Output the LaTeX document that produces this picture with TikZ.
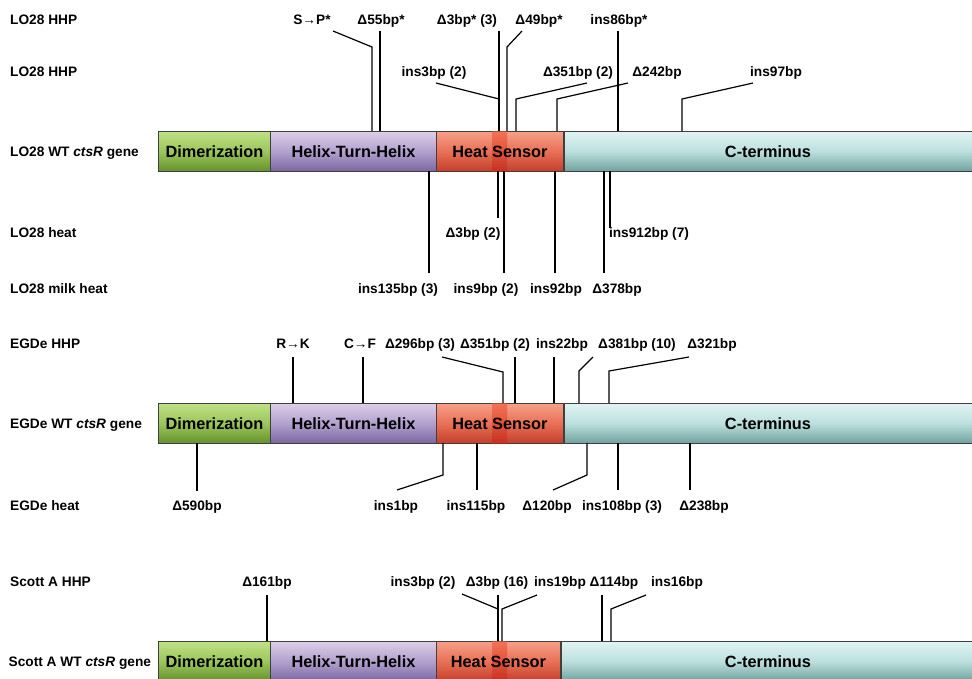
\documentclass[tikz,border=0pt]{standalone}
\usepackage{fontspec}
\setmainfont{Liberation Sans}
\usetikzlibrary{calc}
\definecolor{gtop}{RGB}{192,225,135}
\definecolor{gmid}{RGB}{155,198,90}
\definecolor{gbot}{RGB}{100,145,45}
\definecolor{ptop}{RGB}{220,207,232}
\definecolor{pmid}{RGB}{178,160,205}
\definecolor{pbot}{RGB}{122,102,162}
\definecolor{rtop}{RGB}{246,160,135}
\definecolor{rmid}{RGB}{232,112,86}
\definecolor{rbot}{RGB}{195,62,42}
\definecolor{ctop}{RGB}{224,243,243}
\definecolor{cmid}{RGB}{188,224,222}
\definecolor{cbot}{RGB}{112,160,156}
\definecolor{stop}{RGB}{240,85,55}
\definecolor{sbot}{RGB}{200,40,25}
\pgfdeclareverticalshading{gshade}{100bp}{color(0bp)=(gbot); color(25bp)=(gbot); color(50bp)=(gmid); color(75bp)=(gtop); color(100bp)=(gtop)}
\pgfdeclareverticalshading{pshade}{100bp}{color(0bp)=(pbot); color(25bp)=(pbot); color(50bp)=(pmid); color(75bp)=(ptop); color(100bp)=(ptop)}
\pgfdeclareverticalshading{rshade}{100bp}{color(0bp)=(rbot); color(25bp)=(rbot); color(50bp)=(rmid); color(75bp)=(rtop); color(100bp)=(rtop)}
\pgfdeclareverticalshading{cshade}{100bp}{color(0bp)=(cbot); color(25bp)=(cbot); color(50bp)=(cmid); color(75bp)=(ctop); color(100bp)=(ctop)}
\newcommand\labfont{\fontsize{13.7}{16}\selectfont\bfseries}
\newcommand\segfont{\fontsize{16.3}{19}\selectfont\bfseries}
\tikzset{
  seg/.style={draw=black!75, line width=0.9pt, minimum height=40pt, inner sep=0pt, anchor=north west},
  segtext/.style={font=\segfont, inner sep=0pt, anchor=base},
  lab/.style={font=\labfont, inner sep=0pt, anchor=base},
  rowlab/.style={font=\labfont, inner sep=0pt, anchor=base west},
  mline/.style={line width=1.2pt, black}
}
% #1 prefix, #2 top y, #3 heat sensor width
\newcommand\genebar[3]{%
  \node[seg, shading=gshade, minimum width=112pt] (#1d) at (158,#2) {};
  \node[seg, shading=pshade, minimum width=166pt] (#1h) at (270,#2) {};
  \node[seg, shading=rshade, minimum width=#3pt] (#1s) at (436,#2) {};
  \node[seg, shading=cshade, minimum width=420pt, anchor=north west] (#1c) at ($(#1s.north east)$) {};
  \shade[top color=stop, bottom color=sbot, opacity=0.6] ($(#1s.north west)+(56pt,-0.6pt)$) rectangle ($(#1s.south west)+(71pt,0.6pt)$);
  \node[segtext] (#1dt) at ($(#1d.center)+(0,-6pt)$) {Dimerization};
  \node[segtext] (#1ht) at ($(#1h.center)+(0,-6pt)$) {Helix-Turn-Helix};
  \node[segtext] (#1st) at ($(#1s.center)+(0,-6pt)$) {Heat Sensor};
  \node[segtext] (#1ct) at (768,{#2+26}) {C-terminus};
}
\begin{document}
\begin{tikzpicture}[x=1pt,y=-1pt]
\useasboundingbox (0,0) rectangle (972,678);
\fill[white] (0,0) rectangle (972,678);

% ---------------- LO28 ----------------
\genebar{a}{131}{127}
\node[rowlab] (r1) at (10,24) {LO28 HHP};
\node[rowlab] (r2) at (10,76) {LO28 HHP};
\node[rowlab] (r3) at (10,156) {LO28 WT \textit{ctsR} gene};
\node[rowlab] (r4) at (10,237) {LO28 heat};
\node[rowlab] (r5) at (10,293) {LO28 milk heat};

\node[lab] (a1) at (312,24) {S→P*};
\node[lab] (a2) at (381,24) {Δ55bp*};
\node[lab] (a3) at (467,24) {Δ3bp* (3)};
\node[lab] (a4) at (539,24) {Δ49bp*};
\node[lab] (a5) at (619,24) {ins86bp*};
\node[lab] (a6) at (434,76) {ins3bp (2)};
\node[lab] (a7) at (578,76) {Δ351bp (2)};
\node[lab] (a8) at (657,76) {Δ242bp};
\node[lab] (a9) at (776,76) {ins97bp};

\draw[mline] (333,31) -- (372,47) -- (372,131);
\draw[mline] (380,31) -- (380,131);
\draw[mline] (499,31) -- (499,131);
\draw[mline] (522,31) -- (507,47) -- (507,131);
\draw[mline] (618,31) -- (618,131);
\draw[mline] (436,83) -- (499,99);
\draw[mline] (587,83) -- (516,99) -- (516,131);
\draw[mline] (628,83) -- (557,99) -- (557,131);
\draw[mline] (753,83) -- (682,99) -- (682,131);

\node[lab] (b1) at (398,293) {ins135bp (3)};
\node[lab] (b2) at (473,237) {Δ3bp (2)};
\node[lab] (b3) at (486,293) {ins9bp (2)};
\node[lab] (b4) at (556,293) {ins92bp};
\node[lab] (b5) at (617,293) {Δ378bp};
\node[lab] (b6) at (649,237) {ins912bp (7)};

\draw[mline] (429,171) -- (429,273);
\draw[mline] (498,171) -- (498,218);
\draw[mline] (504,171) -- (504,273);
\draw[mline] (555,171) -- (555,273);
\draw[mline] (604,171) -- (604,273);
\draw[mline] (610,171) -- (610,228);

% ---------------- EGDe ----------------
\genebar{e}{403}{127}
\node[rowlab] (r6) at (10,348) {EGDe HHP};
\node[rowlab] (r7) at (10,428) {EGDe WT \textit{ctsR} gene};
\node[rowlab] (r8) at (10,510) {EGDe heat};

\node[lab] (c1) at (293,348) {R→K};
\node[lab] (c2) at (360,348) {C→F};
\node[lab] (c3) at (420,348) {Δ296bp (3)};
\node[lab] (c4) at (495,348) {Δ351bp (2)};
\node[lab] (c5) at (562,348) {ins22bp};
\node[lab] (c6) at (637,348) {Δ381bp (10)};
\node[lab] (c7) at (712,348) {Δ321bp};

\draw[mline] (293,357) -- (293,403);
\draw[mline] (363,357) -- (363,403);
\draw[mline] (442,357) -- (503,372) -- (503,403);
\draw[mline] (515,357) -- (515,403);
\draw[mline] (554,357) -- (554,403);
\draw[mline] (593,357) -- (579,371) -- (579,403);
\draw[mline] (689,357) -- (609,371) -- (609,403);

\node[lab] (d1) at (197,510) {Δ590bp};
\node[lab] (d2) at (396,510) {ins1bp};
\node[lab] (d3) at (476,510) {ins115bp};
\node[lab] (d4) at (547,510) {Δ120bp};
\node[lab] (d5) at (622,510) {ins108bp (3)};
\node[lab] (d6) at (704,510) {Δ238bp};

\draw[mline] (197,443) -- (197,491);
\draw[mline] (443,443) -- (443,475) -- (397,490);
\draw[mline] (477,443) -- (477,490);
\draw[mline] (587,443) -- (587,475) -- (553,490);
\draw[mline] (618,443) -- (618,490);
\draw[mline] (690,443) -- (690,490);

% ---------------- Scott A ----------------
\genebar{s}{641}{124}
\node[rowlab] (r9) at (10,586) {Scott A HHP};
\node[rowlab] (r10) at (8.5,666) {Scott A WT \textit{ctsR} gene};

\node[lab] (f1) at (267,586) {Δ161bp};
\node[lab] (f2) at (423,586) {ins3bp (2)};
\node[lab] (f3) at (497,586) {Δ3bp (16)};
\node[lab] (f4) at (560,586) {ins19bp};
\node[lab] (f5) at (614,586) {Δ114bp};
\node[lab] (f6) at (677,586) {ins16bp};

\draw[mline] (267,595) -- (267,641);
\draw[mline] (462,594) -- (498,609);
\draw[mline] (498,595) -- (498,641);
\draw[mline] (537,595) -- (502,609) -- (502,641);
\draw[mline] (602,595) -- (602,641);
\draw[mline] (646,595) -- (611,609) -- (611,641);
\end{tikzpicture}
\end{document}
